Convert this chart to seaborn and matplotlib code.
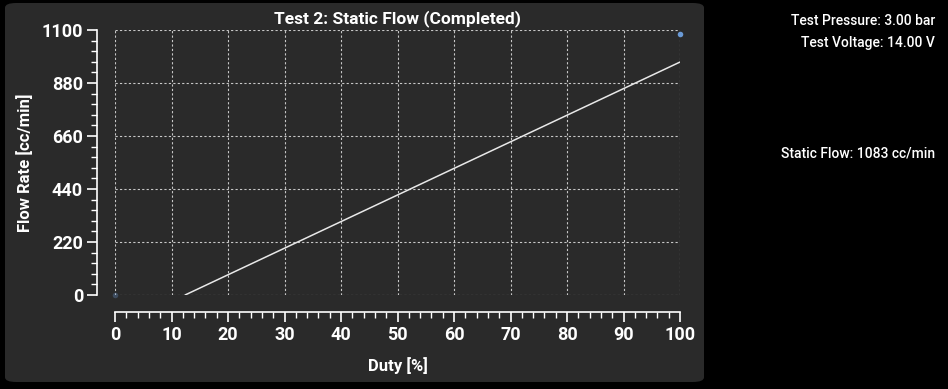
import matplotlib
matplotlib.use('Agg')
import matplotlib.pyplot as plt
from matplotlib.patches import FancyBboxPatch
from matplotlib.ticker import MultipleLocator
import seaborn as sns
import pandas as pd

# data
line_duty = [12.4, 100]
line_flow = [0, 967]
point_duty = [0, 100]
point_flow = [0, 1083]
point_alpha = [0.3, 1.0]

title = 'Test 2: Static Flow (Completed)'
info_lines = ['Test Pressure: 3.00 bar', 'Test Voltage: 14.00 V']
static_flow = 'Static Flow: 1083 cc/min'

sns.set_style('dark', {
    'axes.facecolor': '#2a2a2a',
    'figure.facecolor': 'black',
    'axes.edgecolor': 'white',
    'xtick.color': 'white',
    'ytick.color': 'white',
    'text.color': 'white',
    'axes.labelcolor': 'white',
})
plt.rcParams['font.family'] = ['Roboto', 'DejaVu Sans']

W, H = 948, 389
fig = plt.figure(figsize=(W / 100, H / 100), dpi=100)

# rounded panel behind the chart
panel = FancyBboxPatch((5 / W, 1 - 382 / H), 699 / W, 379 / H,
                       boxstyle='round,pad=0,rounding_size=0.012',
                       transform=fig.transFigure, facecolor='#2a2a2a',
                       edgecolor='none', zorder=-5)
fig.patches.append(panel)

ax = fig.add_axes([115 / W, 1 - 295 / H, 565 / W, 265 / H])
ax.set_zorder(2)
ax.patch.set_alpha(0)

line_df = pd.DataFrame({'duty': line_duty, 'flow': line_flow})
pts_df = pd.DataFrame({'duty': point_duty, 'flow': point_flow, 'a': point_alpha})

sns.lineplot(data=line_df, x='duty', y='flow', ax=ax, color='#e8e8e8',
             linewidth=1.1, zorder=3)
for _, r in pts_df.iterrows():
    ax.scatter(r['duty'], r['flow'], s=16, color='#6a9ad6', alpha=r['a'],
               zorder=4, linewidths=0, clip_on=False)

ax.set_xlim(0, 100)
ax.set_ylim(0, 1100)
ax.xaxis.set_major_locator(MultipleLocator(10))
ax.xaxis.set_minor_locator(MultipleLocator(2))
ax.yaxis.set_major_locator(MultipleLocator(220))
ax.yaxis.set_minor_locator(MultipleLocator(44))

ax.grid(True, which='major', color='#c8c8c8', linestyle=(0, (2, 2)),
        linewidth=0.8)
sns.despine(ax=ax, offset={'left': 13, 'bottom': 12})
for s in ('left', 'bottom'):
    ax.spines[s].set_color('white')
    ax.spines[s].set_linewidth(1.2)

ax.tick_params(axis='both', which='major', length=7, width=1.2,
               colors='white', labelsize=13, pad=3)
ax.tick_params(axis='both', which='minor', length=4, width=1.0,
               colors='white')
ax.tick_params(axis='y', which='both', left=True)
ax.tick_params(axis='x', which='both', bottom=True)
for lab in ax.get_xticklabels() + ax.get_yticklabels():
    lab.set_fontweight('bold')

ax.set_xlabel('Duty [%]', fontsize=12, fontweight='bold', labelpad=10)
ax.set_ylabel('Flow Rate [cc/min]', fontsize=12, fontweight='bold',
              labelpad=6)
ax.set_title(title, fontsize=12.5, fontweight='bold', pad=5)

fig.text(935 / W, 1 - 21 / H, info_lines[0], ha='right', va='center',
         fontsize=10, fontweight='medium')
fig.text(935 / W, 1 - 43 / H, info_lines[1], ha='right', va='center',
         fontsize=10, fontweight='medium')
fig.text(935 / W, 1 - 153 / H, static_flow, ha='right', va='center',
         fontsize=10, fontweight='medium')

fig.savefig('out.png', dpi=100, facecolor='black')
